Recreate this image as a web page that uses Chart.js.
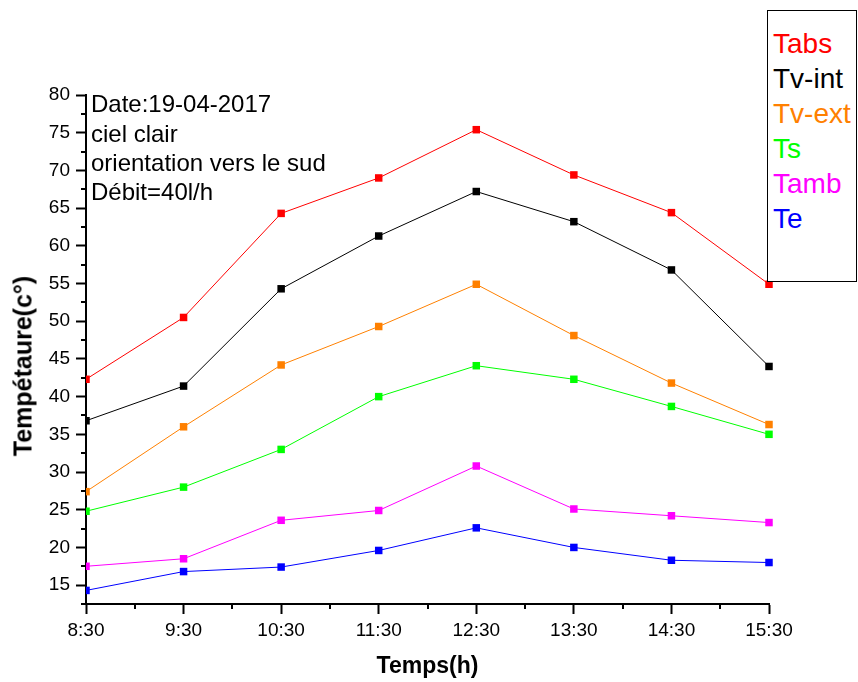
<!DOCTYPE html>
<html>
<head>
<meta charset="utf-8">
<script src="https://cdn.jsdelivr.net/npm/chart.js@4.4.1/dist/chart.umd.min.js"></script>
<style>
  html, body { margin: 0; padding: 0; background: #fff; }
  #wrap { position: relative; width: 858px; height: 682px; font-family: 'Liberation Sans', Arial, sans-serif; }
  #c { position: absolute; left: 0; top: 0; }
  #legend { position: absolute; left: 767px; top: 10px; width: 90px; height: 272px; box-sizing: border-box;
    border: 1.5px solid #000; background: #fff; padding: 14.6px 0 0 5px; font-size: 28px; line-height: 35px; white-space: nowrap; }
  #note { position: absolute; left: 91px; top: 89.4px; font-size: 24px; line-height: 29.2px; color: #000; white-space: nowrap; }
  #ytitle { position: absolute; left: 22.5px; top: 366px; transform: translate(-50%, -50%) rotate(-90deg);
    font-weight: bold; font-size: 25px; white-space: nowrap; color: #000; }
</style>
</head>
<body>
<div id="wrap">
  <canvas id="c" width="858" height="682"></canvas>
  <div id="note"></div>
  <div id="legend"></div>
  <div id="ytitle">Tempétaure(c°)</div>
</div>
<script>
const categories = ['8:30', '9:30', '10:30', '11:30', '12:30', '13:30', '14:30', '15:30'];
const tabs  = [42.3, 50.5, 64.3, 69.0, 75.4, 69.4, 64.4, 54.9];
const tvInt = [36.8, 41.4, 54.3, 61.3, 67.2, 63.2, 56.8, 44.0];
const tvExt = [27.4, 36.0, 44.2, 49.3, 54.9, 48.1, 41.8, 36.3];
const ts    = [24.8, 28.0, 33.0, 40.0, 44.1, 42.3, 38.7, 35.0];
const tamb  = [17.5, 18.5, 23.6, 24.9, 30.8, 25.1, 24.2, 23.3];
const te    = [14.3, 16.8, 17.4, 19.6, 22.6, 20.0, 18.3, 18.0];
const yTicks = [15, 20, 25, 30, 35, 40, 45, 50, 55, 60, 65, 70, 75, 80];
const seriesNames = ['Tabs', 'Tv-int', 'Tv-ext', 'Ts', 'Tamb', 'Te'];
const seriesColors = ['#FF0000', '#000000', '#FF8000', '#00FF00', '#FF00FF', '#0000FF'];
const noteLines = ['Date:19-04-2017', 'ciel clair', 'orientation vers le sud', 'Débit=40l/h'];
const xTitle = 'Temps(h)';

const seriesValues = [tabs, tvInt, tvExt, ts, tamb, te];

document.getElementById('note').innerHTML = noteLines.map(t => '<div>' + t + '</div>').join('');
document.getElementById('legend').innerHTML = seriesNames.map((n, i) =>
  '<div style="color:' + seriesColors[i] + '">' + n + '</div>').join('');

const datasets = seriesNames.map((name, i) => ({
  label: name,
  data: seriesValues[i],
  borderColor: seriesColors[i],
  backgroundColor: seriesColors[i],
  borderWidth: 1,
  tension: 0,
  pointStyle: 'rect',
  pointRadius: 5.3,
  pointHoverRadius: 5.3,
  pointBorderWidth: 0,
  pointBackgroundColor: seriesColors[i],
  clip: { left: 0, top: false, right: false, bottom: false }
}));

const minorTicks = {
  id: 'minorTicks',
  afterDraw(chart) {
    const { ctx, chartArea } = chart;
    const x = chart.scales.x, y = chart.scales.y;
    ctx.save();
    ctx.strokeStyle = '#000';
    ctx.lineWidth = 2;
    ctx.beginPath();
    const step = yTicks[1] - yTicks[0];
    for (let i = 0; i < yTicks.length; i++) {
      const py = Math.round(y.getPixelForValue(yTicks[i] - step / 2));
      ctx.moveTo(chartArea.left - 5, py);
      ctx.lineTo(chartArea.left, py);
    }
    for (let i = 0; i < categories.length - 1; i++) {
      const px = Math.round((x.getPixelForValue(i) + x.getPixelForValue(i + 1)) / 2);
      ctx.moveTo(px, chartArea.bottom);
      ctx.lineTo(px, chartArea.bottom + 5);
    }
    ctx.stroke();
    ctx.restore();
  }
};

new Chart(document.getElementById('c'), {
  type: 'line',
  data: { labels: categories, datasets },
  options: {
    responsive: false,
    animation: false,
    events: [],
    layout: { padding: { top: 95, right: 89, left: 0, bottom: 0 } },
    plugins: { legend: { display: false }, tooltip: { enabled: false } },
    scales: {
      x: {
        type: 'category',
        offset: false,
        z: 1,
        afterFit(s) { s.height = 78; },
        border: { display: true, color: '#000', width: 2 },
        grid: { display: true, drawOnChartArea: false, drawTicks: true, tickLength: 10, tickColor: '#000', tickWidth: 2, offset: false },
        ticks: { color: '#000', font: { family: "'Liberation Sans', Arial, sans-serif", size: 19 }, padding: 5, maxRotation: 0, autoSkip: false },
        title: { display: true, text: xTitle, color: '#000', font: { family: "'Liberation Sans', Arial, sans-serif", size: 23, weight: 'bold' }, padding: { top: 0, bottom: 2 } }
      },
      y: {
        type: 'linear',
        min: 12.5,
        max: 80,
        z: 1,
        afterFit(s) { s.width = 86; },
        afterBuildTicks(s) { s.ticks = yTicks.map(v => ({ value: v })); },
        border: { display: true, color: '#000', width: 2 },
        grid: { display: true, drawOnChartArea: false, drawTicks: true, tickLength: 10, tickColor: '#000', tickWidth: 2 },
        ticks: { color: '#000', font: { family: "'Liberation Sans', Arial, sans-serif", size: 19 }, padding: 6 }
      }
    }
  },
  plugins: [minorTicks]
});
</script>
</body>
</html>
